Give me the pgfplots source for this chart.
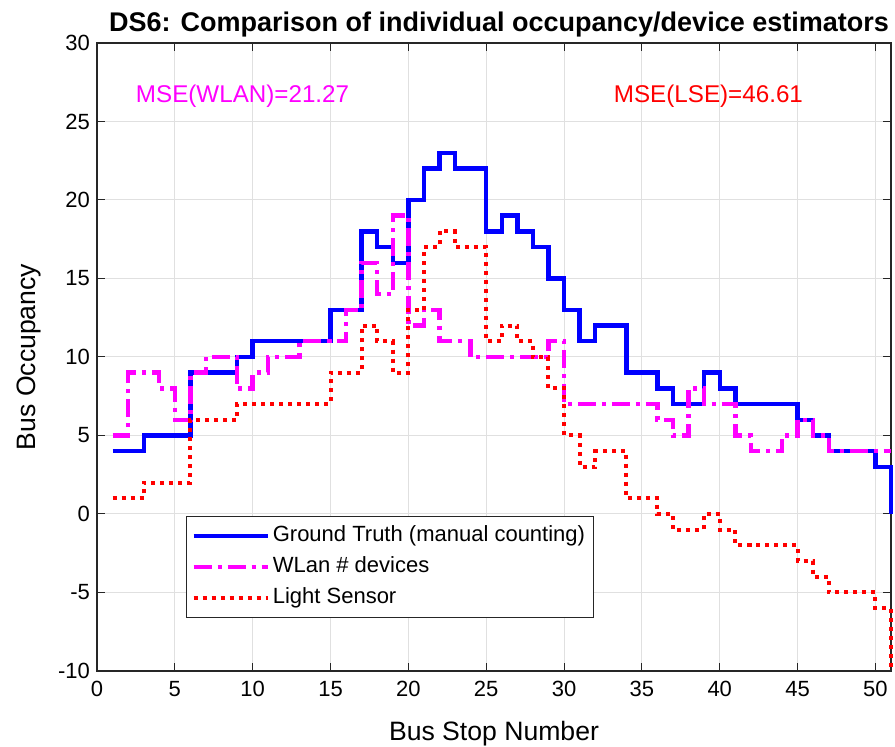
\documentclass[border=0pt]{standalone}
\usepackage{fontspec}
\setmainfont{Liberation Sans}
\usepackage{pgfplots}
\pgfplotsset{compat=1.18}
\definecolor{axgray}{gray}{0.15}
\definecolor{gridgray}{gray}{0.88}
\definecolor{mblue}{rgb}{0,0,1}
\definecolor{mmag}{rgb}{1,0,1}
\definecolor{mred}{rgb}{1,0,0}

\pgfplotstableread{
x gt wlan lse
1 4 5 1
2 4 9 1
3 5 9 2
4 5 8 2
5 5 6 2
6 9 9 6
7 9 10 6
8 9 10 6
9 10 8 7
10 11 9 7
11 11 10 7
12 11 10 7
13 11 11 7
14 11 11 7
15 13 11 9
16 13 13 9
17 18 16 12
18 17 14 11
19 16 19 9
20 20 12 13
21 22 13 17
22 23 11 18
23 22 11 17
24 22 10 17
25 18 10 11
26 19 10 12
27 18 10 11
28 17 10 10
29 15 11 8
30 13 7 5
31 11 7 3
32 12 7 4
33 12 7 4
34 9 7 1
35 9 7 1
36 8 6 0
37 7 5 -1
38 7 8 -1
39 9 7 0
40 8 7 -1
41 7 5 -2
42 7 4 -2
43 7 4 -2
44 7 5 -2
45 6 6 -3
46 5 5 -4
47 4 4 -5
48 4 4 -5
49 4 4 -5
50 3 4 -6
51 0 4 -10
}\datatable

\begin{document}
\begin{tikzpicture}
\begin{axis}[
  scale only axis, width=397pt, height=314pt,
  xmin=0, xmax=51, ymin=-10, ymax=30,
  xtick={0,5,...,50}, ytick={-10,-5,...,30},
  grid=major, major grid style={gridgray, line width=0.5pt},
  axis line style={axgray, line width=0.6pt},
  tick style={axgray, line width=0.5pt}, major tick length=4pt,
  tick align=inside, tick pos=both,
  /pgf/number format/assume math mode=true,
  ticklabel style={font=\fontsize{11}{13}\selectfont},
  xticklabel style={yshift=-1.5pt},
  title={DS6: Comparison of individual occupancy/device estimators},
  title style={font=\bfseries\fontsize{13.5}{16}\selectfont, at={(axis description cs:0.5,1)}, anchor=base, yshift=-0.5pt, xshift=2.5pt},
  xlabel={Bus Stop Number},
  ylabel={Bus Occupancy},
  label style={font=\fontsize{13.3}{16}\selectfont},
  xlabel style={at={(axis description cs:0.5,-0.1099)}, anchor=base},
  ylabel style={at={(axis description cs:-0.0780,0.5)}, anchor=base, rotate=0},
  clip=false,
  legend cell align=left,
  legend style={at={(axis description cs:0.112,0.2468)}, anchor=north west,
    draw=axgray, line width=0.5pt, fill=white, font=\fontsize{11}{13}\selectfont,
    inner xsep=2.5pt, inner ysep=2pt, row sep=0pt,
    nodes={text height=8pt, text depth=2.5pt, inner ysep=2.5pt, inner xsep=1.5pt}},
  legend image code/.code={\draw[#1] (0pt,0pt) -- (37pt,0pt);},
]
\addplot[const plot, mblue, line width=2.2pt] table[x=x, y=gt] {\datatable};
\addlegendentry{Ground Truth (manual counting)}
\addplot[const plot, mmag, line width=2.2pt, dash pattern=on 9pt off 3pt on 2pt off 3pt] table[x=x, y=wlan] {\datatable};
\addlegendentry{WLan \# devices}
\addplot[const plot, mred, line width=2pt, dash pattern=on 2pt off 2.5pt] table[x=x, y=lse] {\datatable};
\addlegendentry{Light Sensor}
\node[anchor=west, text=mmag, font=\fontsize{12.1}{14}\selectfont] at (axis cs:2.05,26.6) {MSE(WLAN)=21.27};
\node[anchor=west, text=mred, font=\fontsize{12.1}{14}\selectfont] at (axis cs:32.75,26.6) {MSE(LSE)=46.61};
\coordinate (BL) at (rel axis cs:0,0);
\end{axis}
\pgfresetboundingbox
\path[use as bounding box] (BL) ++(-48.5pt,-38pt) rectangle ++(447.5pt,373.5pt);
\end{tikzpicture}
\end{document}
